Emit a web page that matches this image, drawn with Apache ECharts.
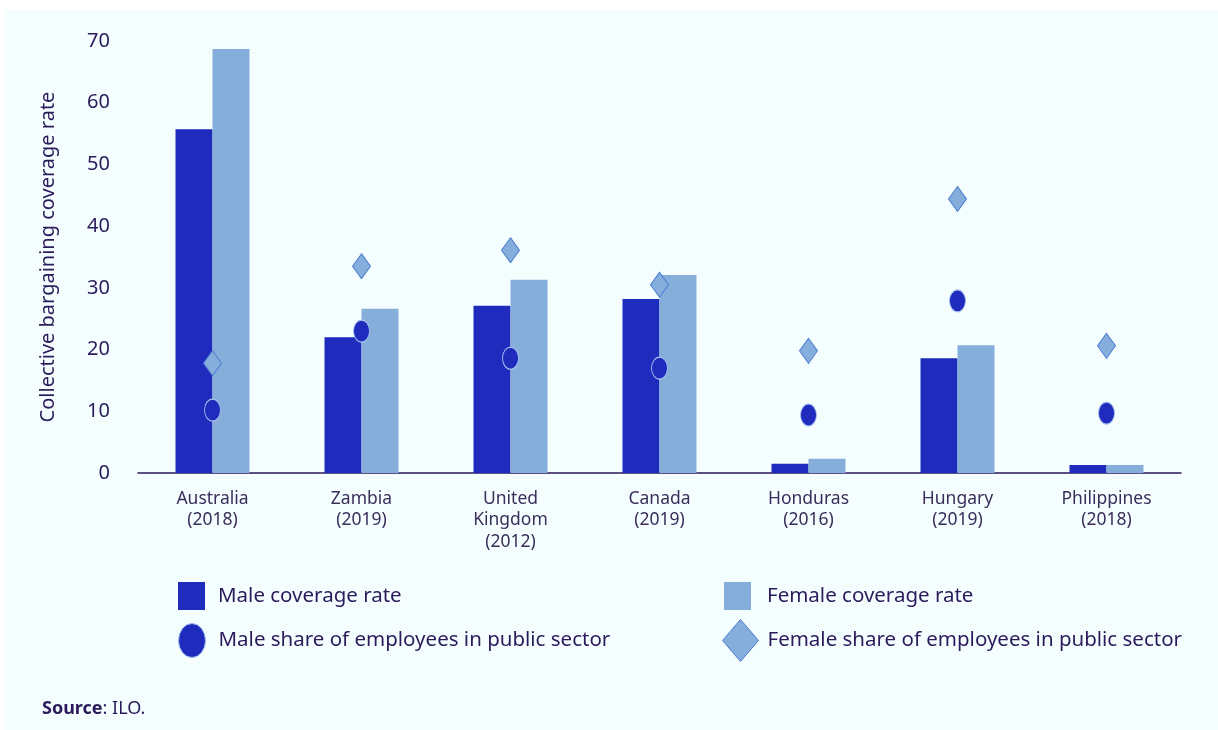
<!DOCTYPE html>
<html>
<head>
<meta charset="utf-8">
<script src="https://cdn.jsdelivr.net/npm/echarts@6/dist/echarts.min.js"></script>
<style>
html,body{margin:0;padding:0;background:#ffffff;}
#chart{width:1218px;height:730px;}
</style>
</head>
<body>
<div id="chart"></div>
<script>
const categories = ['Australia\n(2018)','Zambia\n(2019)','United\nKingdom\n(2012)','Canada\n(2019)','Honduras\n(2016)','Hungary\n(2019)','Philippines\n(2018)'];
const maleCoverage = [55.7, 22.0, 27.1, 28.2, 1.5, 18.6, 1.3];
const femaleCoverage = [68.7, 26.6, 31.3, 32.1, 2.3, 20.7, 1.3];
const maleShare = [10.2, 23.0, 18.6, 17.0, 9.4, 27.9, 9.7];
const femaleShare = [17.8, 33.5, 36.1, 30.5, 19.8, 44.4, 20.6];
const yTicks = [0, 10, 20, 30, 40, 50, 60, 70];

const DARK = '#1f2bbd';
const LIGHT = '#85aedb';
const TEXT = '#2b1b5c';
const FONT = '"Noto Sans", "Open Sans", sans-serif';
const ELLIPSE = 'path://M0,-1A1,1 0 1,1 0,1A1,1 0 1,1 0,-1Z';
const DIAMOND = 'path://M0,0L1,1L0,2L-1,1Z';

const chart = echarts.init(document.getElementById('chart'));
const lt = (pad) => ({color: TEXT, fontSize: 20.5, fontFamily: FONT, padding: [0, 0, 0, pad]});
chart.setOption({
  backgroundColor: '#ffffff',
  animation: false,
  textStyle: {fontFamily: FONT},
  graphic: [{
    type: 'rect', z: -10, silent: true,
    shape: {x: 4, y: 10, width: 1214, height: 720},
    style: {fill: '#f5feff'}
  }],
  title: {
    left: 37, top: 695,
    text: '{b|Source}: ILO.',
    textStyle: {
      fontSize: 18, fontWeight: 'normal', color: TEXT, fontFamily: FONT,
      rich: {b: {fontSize: 18, fontWeight: 'bold', color: TEXT, fontFamily: FONT}}
    }
  },
  legend: [
    {left: 173, top: 577, itemWidth: 27, itemHeight: 28, itemGap: 0, textStyle: lt(8),
     symbolKeepAspect: false,
     data: [{name: 'Male coverage rate', icon: 'rect'}]},
    {left: 719, top: 577, itemWidth: 27, itemHeight: 28, itemGap: 0, textStyle: lt(11),
     symbolKeepAspect: false,
     data: [{name: 'Female coverage rate', icon: 'rect'}]},
    {left: 173, top: 618, itemWidth: 27, itemHeight: 34, itemGap: 0, textStyle: lt(8),
     symbolKeepAspect: false,
     data: [{name: 'Male share of employees in public sector', icon: ELLIPSE,
             itemStyle: {color: DARK, borderColor: '#a9c2ef', borderWidth: 1}}]},
    {left: 717, top: 614, itemWidth: 36, itemHeight: 42, itemGap: 0, textStyle: lt(4),
     symbolKeepAspect: false,
     data: [{name: 'Female share of employees in public sector', icon: DIAMOND,
             itemStyle: {color: '#86aedc', borderColor: '#4b7ed2', borderWidth: 1}}]}
  ],
  grid: {left: 138, right: 37, top: 41, bottom: 257},
  xAxis: {
    type: 'category',
    data: categories,
    axisLine: {lineStyle: {color: '#2a1658', width: 1.5}},
    axisTick: {show: false},
    axisLabel: {color: '#3a2e5a', fontSize: 17.5, lineHeight: 21.5, margin: 15, fontFamily: FONT}
  },
  yAxis: {
    type: 'value',
    min: 0, max: 70, interval: 10,
    name: 'Collective bargaining coverage rate',
    nameLocation: 'middle',
    nameGap: 80,
    nameRotate: 90,
    nameTextStyle: {color: TEXT, fontSize: 20, fontFamily: FONT},
    axisLine: {show: false},
    axisTick: {show: false},
    splitLine: {show: false},
    axisLabel: {color: TEXT, fontSize: 20, margin: 28, fontFamily: FONT,
      formatter: v => yTicks.includes(v) ? String(v) : ''}
  },
  series: [
    {name: 'Male coverage rate', type: 'bar', data: maleCoverage, barWidth: 37, barGap: '0%',
     itemStyle: {color: DARK}},
    {name: 'Female coverage rate', type: 'bar', data: femaleCoverage, barWidth: 37, barGap: '0%',
     itemStyle: {color: LIGHT}},
    {name: 'Male share of employees in public sector', type: 'scatter', data: maleShare,
     symbol: 'circle', symbolSize: [16, 22], z: 5,
     itemStyle: {color: DARK, opacity: 1, borderColor: '#a9c2ef', borderWidth: 1}},
    {name: 'Female share of employees in public sector', type: 'scatter', data: femaleShare,
     symbol: 'diamond', symbolSize: [18, 25], z: 5,
     itemStyle: {color: '#86aedc', opacity: 1, borderColor: '#4b7ed2', borderWidth: 1}}
  ]
});
</script>
</body>
</html>
